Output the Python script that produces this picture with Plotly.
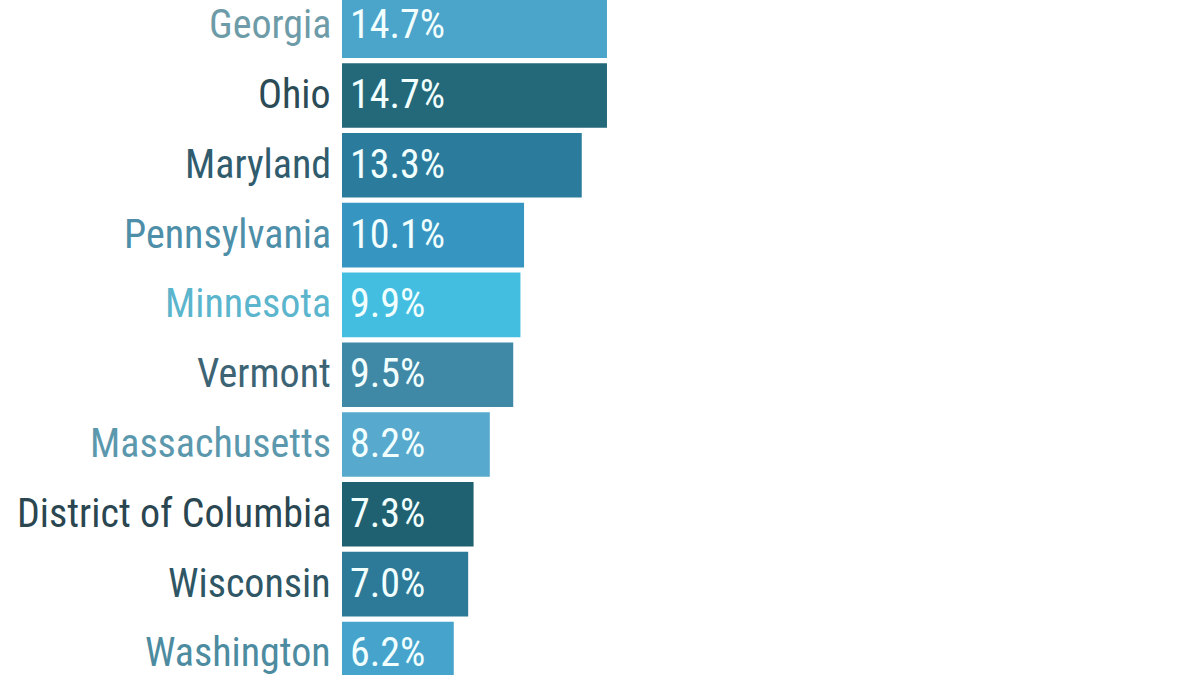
import plotly.graph_objects as go

states = ["Georgia", "Ohio", "Maryland", "Pennsylvania", "Minnesota", "Vermont",
          "Massachusetts", "District of Columbia", "Wisconsin", "Washington"]
values = [14.7, 14.7, 13.3, 10.1, 9.9, 9.5, 8.2, 7.3, 7.0, 6.2]
bar_colors = ["#4ba4ca", "#236979", "#2a7b9c", "#3796c1", "#43bee1", "#3f88a6",
              "#57a9cd", "#1f6170", "#2c7a98", "#46a4cc"]
label_colors = ["#6d9ca8", "#2b4b56", "#305c6d", "#4d8ea8", "#5bb5cd", "#3d6474",
                "#5b98ad", "#2a4650", "#2f5664", "#4c8ba0"]

FONT = "Roboto Condensed, Liberation Sans Narrow, DejaVu Sans Condensed, sans-serif"
FS = 40

fig = go.Figure(go.Bar(
    x=values, y=states, orientation="h",
    marker=dict(color=bar_colors, line=dict(width=0)),
    hoverinfo="skip",
))

annotations = []
for s, v, lc in zip(states, values, label_colors):
    annotations.append(dict(x=0, y=s, xref="x", yref="y", text=s, showarrow=False,
                            xanchor="right", xshift=-9, yshift=1,
                            font=dict(family=FONT, size=FS, color=lc)))
    annotations.append(dict(x=0, y=s, xref="x", yref="y", text=f"{v:.1f}%", showarrow=False,
                            xanchor="left", xshift=6, yshift=1,
                            font=dict(family=FONT, size=FS, color="#f2ffff")))

fig.update_layout(
    width=1200, height=675,
    margin=dict(l=342, r=0, t=0, b=0),
    paper_bgcolor="white", plot_bgcolor="white",
    bargap=0.075,
    showlegend=False,
    xaxis=dict(range=[0, 47.6], visible=False, fixedrange=True),
    yaxis=dict(type="category", categoryorder="array", categoryarray=states,
               range=[9.302, -0.368], visible=False, fixedrange=True),
    annotations=annotations,
)

fig.write_html("out.html")
